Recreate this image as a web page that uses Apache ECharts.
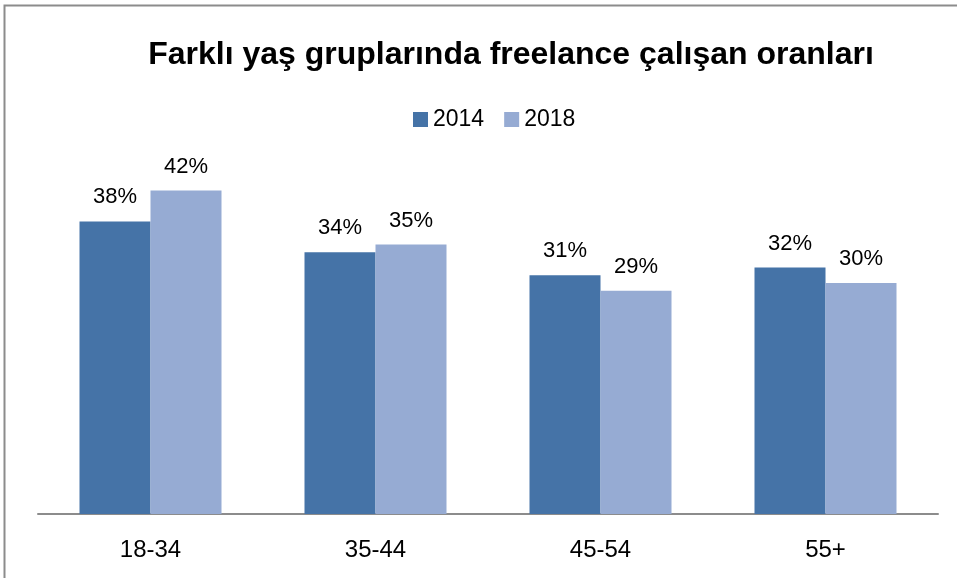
<!DOCTYPE html>
<html>
<head>
<meta charset="utf-8">
<script src="https://cdn.jsdelivr.net/npm/echarts@6/dist/echarts.min.js"></script>
<style>
  html, body { margin: 0; padding: 0; background: #fff; }
  #chart { width: 957px; height: 578px; }
</style>
</head>
<body>
<div id="chart"></div>
<script>
const categories = ['18-34', '35-44', '45-54', '55+'];
const seriesNames = ['2014', '2018'];
const values2014 = [38, 34, 31, 32];
const values2018 = [42, 35, 29, 30];

const font = '"Liberation Sans", Arial, sans-serif';
const colors = ['#4573A7', '#96ABD3'];

const chart = echarts.init(document.getElementById('chart'));

function barSeries(name, data, color) {
    return {
        name,
        type: 'bar',
        data,
        barWidth: 71,
        barGap: '0%',
        itemStyle: { color },
        label: {
            show: true,
            position: 'top',
            distance: 13,
            formatter: '{c}%',
            fontFamily: font,
            fontSize: 22,
            color: '#000'
        }
    };
}

chart.setOption({
    animation: false,
    title: {
        text: 'Farklı yaş gruplarında freelance çalışan oranları',
        left: 506,
        textAlign: 'center',
        top: 34,
        textStyle: { fontFamily: font, fontWeight: 'bold', fontSize: 32, color: '#000' }
    },
    legend: {
        data: seriesNames,
        left: 408,
        top: 103,
        itemWidth: 15,
        itemHeight: 15,
        itemGap: 20,
        icon: 'rect',
        textStyle: { fontFamily: font, fontSize: 23, color: '#000' }
    },
    grid: { left: 38, right: 19, top: 129, bottom: 64 },
    xAxis: {
        type: 'category',
        data: categories,
        axisLine: { lineStyle: { color: '#8c8c8c', width: 2 } },
        axisTick: { show: false },
        axisLabel: { fontFamily: font, fontSize: 24, color: '#000', margin: 24 }
    },
    yAxis: {
        type: 'value',
        min: 0,
        max: 50,
        show: false
    },
    series: [
        barSeries(seriesNames[0], values2014, colors[0]),
        barSeries(seriesNames[1], values2018, colors[1])
    ],
    graphic: [{
        type: 'rect',
        shape: { x: 4.5, y: 5.5, width: 1200, height: 1200 },
        style: { fill: 'none', stroke: '#8c8c8c', lineWidth: 2 },
        silent: true
    }]
});
</script>
</body>
</html>
